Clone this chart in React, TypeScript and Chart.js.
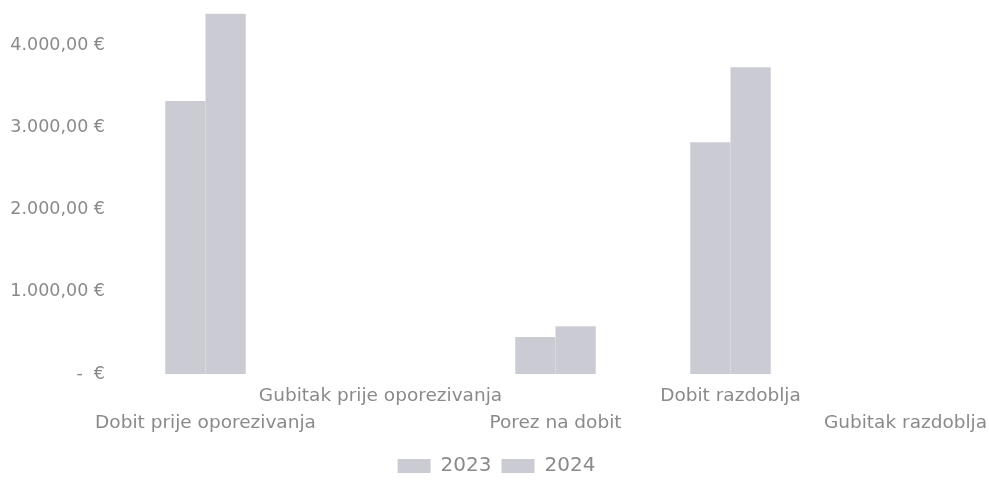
import React, { useEffect, useRef } from "react";
import { Chart, registerables } from "chart.js";

Chart.register(...registerables);

const categories = [
  "Dobit prije oporezivanja",
  "Gubitak prije oporezivanja",
  "Porez na dobit",
  "Dobit razdoblja",
  "Gubitak razdoblja",
];
const series2023 = [3320, 0, 450, 2820, 0];
const series2024 = [4380, 0, 580, 3730, 0];
const seriesLabels = ["2023", "2024"];
const yTicks = [0, 1000, 2000, 3000, 4000];

const TEXT = "#8a8a8a";
const BAR = "#cbccd3";
const FONT = "'DejaVu Sans', sans-serif";

function formatEuro(v: number): string {
  if (v === 0) return "-  €";
  const s = Math.round(v).toString();
  const withDots = s.replace(/\B(?=(\d{3})+(?!\d))/g, ".");
  return withDots + ",00 €";
}

export default function App() {
  const ref = useRef<HTMLCanvasElement | null>(null);
  useEffect(() => {
    if (!ref.current) return;
    const chart = new Chart(ref.current, {
      type: "bar",
      data: {
        labels: categories,
        datasets: [
          { label: seriesLabels[0], data: series2023, backgroundColor: BAR, borderWidth: 0 },
          { label: seriesLabels[1], data: series2024, backgroundColor: BAR, borderWidth: 0 },
        ],
      },
      options: {
        responsive: false,
        animation: false,
        layout: { padding: { top: 4, left: 0, right: 7, bottom: 0 } },
        datasets: { bar: { categoryPercentage: 0.46, barPercentage: 1 } },
        scales: {
          x: {
            grid: { display: false, drawTicks: false },
            border: { display: false },
            afterFit: (scale: any) => {
              scale.height = 72;
            },
            ticks: {
              autoSkip: false,
              maxRotation: 0,
              minRotation: 0,
              padding: 8.5,
              color: TEXT,
              font: { family: FONT, size: 18.5, lineHeight: 1.46 },
              callback: (_v: any, i: number) =>
                i % 2 === 0 ? ["", categories[i]] : [categories[i], ""],
            },
          },
          y: {
            min: 0,
            max: 4500,
            grid: { display: false, drawTicks: false },
            border: { display: false },
            afterFit: (scale: any) => {
              scale.width = 118;
              scale.paddingTop = 0;
              scale.paddingBottom = 0;
            },
            afterBuildTicks: (scale: any) => {
              scale.ticks = yTicks.map((v) => ({ value: v }));
            },
            ticks: {
              padding: 13,
              color: TEXT,
              font: { family: FONT, size: 17.5 },
              callback: (v: any) => formatEuro(Number(v)),
            },
          },
        },
        plugins: {
          legend: {
            position: "bottom",
            labels: {
              color: TEXT,
              boxWidth: 33,
              boxHeight: 14,
              padding: 10,
              font: { family: FONT, size: 20 },
            },
          },
          tooltip: { enabled: false },
        },
      } as any,
    });
    return () => chart.destroy();
  }, []);
  return (
    <div
      style={{
        position: "absolute",
        left: 0,
        top: 0,
        width: 989,
        height: 486,
        overflow: "hidden",
        background: "#fff",
      }}
    >
      <canvas ref={ref} width={1000} height={486} style={{ display: "block" }} />
    </div>
  );
}
